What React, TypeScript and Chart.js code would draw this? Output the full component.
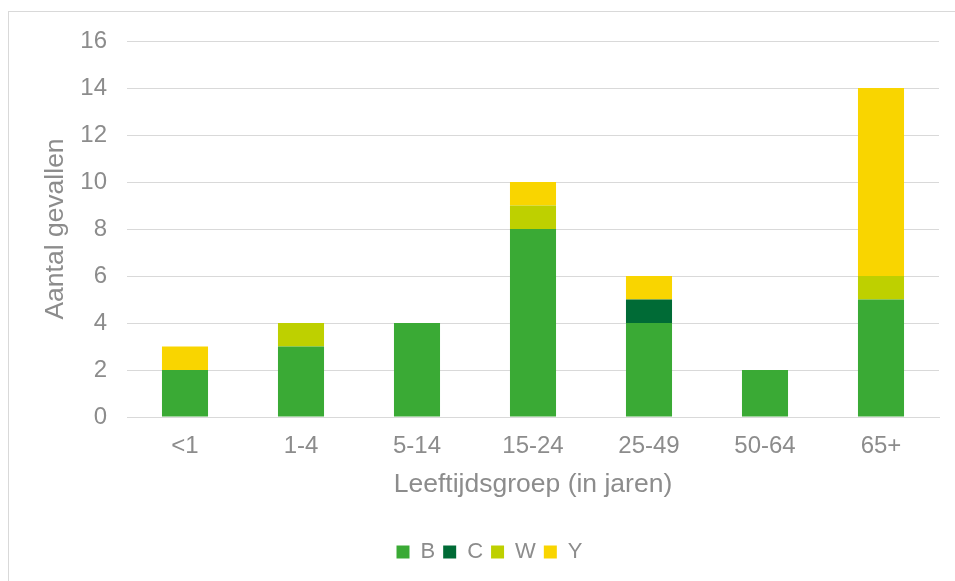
import React, { useEffect, useRef } from "react";
import { Chart, registerables } from "chart.js";

Chart.register(...registerables);

const categories = ["<1", "1-4", "5-14", "15-24", "25-49", "50-64", "65+"];
const seriesB = [2, 3, 4, 8, 4, 2, 5];
const seriesC = [0, 0, 0, 0, 1, 0, 0];
const seriesW = [0, 1, 0, 1, 0, 0, 1];
const seriesY = [1, 0, 0, 1, 1, 0, 8];
const yTicks = [0, 2, 4, 6, 8, 10, 12, 14, 16];

const FONT = "'Liberation Sans', Arial, sans-serif";
const GRAY = "#8c8c8c";
const GRID = "#d9d9d9";

export default function App() {
  const ref = useRef<HTMLCanvasElement>(null);
  useEffect(() => {
    if (!ref.current) return;
    const chart = new Chart(ref.current, {
      type: "bar",
      data: {
        labels: categories,
        datasets: [
          { label: "B", data: seriesB, backgroundColor: "#3aaa35" },
          { label: "C", data: seriesC, backgroundColor: "#006b36" },
          { label: "W", data: seriesW, backgroundColor: "#bed000" },
          { label: "Y", data: seriesY, backgroundColor: "#f9d500" },
        ].map((d) => ({ ...d, categoryPercentage: 1, barPercentage: 0.397, borderWidth: 0, stack: "s" })),
      },
      options: {
        animation: false,
        responsive: false,
        maintainAspectRatio: false,
        layout: { padding: { top: 41, left: 40, right: 16, bottom: 8 } },
        plugins: {
          tooltip: { enabled: false },
          legend: {
            position: "bottom",
            labels: {
              color: GRAY,
              font: { family: FONT, size: 22 },
              boxWidth: 13,
              boxHeight: 13,
              padding: 8,
            },
          },
        },
        scales: {
          x: {
            stacked: true,
            afterFit: (scale: any) => {
              scale.height = 116;
            },
            grid: { display: false, drawTicks: false },
            border: { display: true, color: GRID, width: 1 },
            ticks: { color: GRAY, font: { family: FONT, size: 24 }, padding: 15 },
            title: {
              display: true,
              text: "Leeftijdsgroep (in jaren)",
              color: GRAY,
              font: { family: FONT, size: 26.5 },
              padding: { top: 0, bottom: 32 },
            },
          },
          y: {
            stacked: true,
            min: 0,
            max: 16,
            afterBuildTicks: (scale: any) => {
              scale.ticks = yTicks.map((v) => ({ value: v }));
            },
            afterFit: (scale: any) => {
              scale.width = 87;
            },
            grid: { color: GRID, lineWidth: 1, drawTicks: false },
            border: { display: false },
            ticks: { color: GRAY, font: { family: FONT, size: 24 }, padding: 20 },
            title: {
              display: true,
              text: "Aantal gevallen",
              color: GRAY,
              font: { family: FONT, size: 26.5 },
              padding: { top: 0, bottom: 0 },
            },
          },
        },
      },
    });
    return () => chart.destroy();
  }, []);
  return (
    <div style={{ position: "fixed", left: 0, top: 0, width: 955, height: 581, background: "#fff", overflow: "hidden" }}>
      <div
        style={{
          position: "absolute",
          left: 8,
          top: 11,
          width: 1000,
          height: 700,
          border: "1px solid #d9d9d9",
          boxSizing: "border-box",
        }}
      />
      <canvas ref={ref} width={955} height={581} style={{ position: "absolute", left: 0, top: 0 }} />
    </div>
  );
}
